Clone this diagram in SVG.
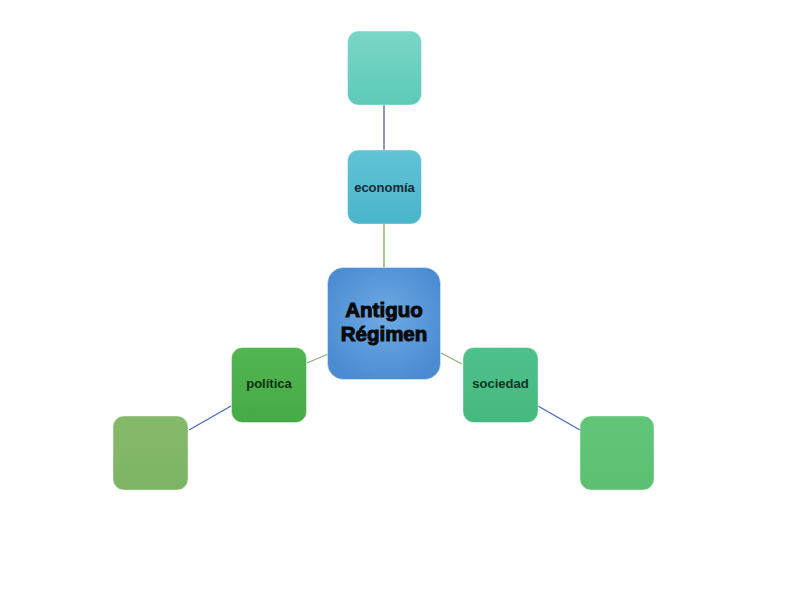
<svg xmlns="http://www.w3.org/2000/svg" width="800" height="599" viewBox="0 0 800 599">
<defs>
<linearGradient id="gTop" x1="0" y1="0" x2="0" y2="1"><stop offset="0" stop-color="#7bd6c7"/><stop offset="1" stop-color="#5dcab7"/></linearGradient>
<linearGradient id="gEco" x1="0" y1="0" x2="0" y2="1"><stop offset="0" stop-color="#62c3d6"/><stop offset="1" stop-color="#4ab5ca"/></linearGradient>
<radialGradient id="gCen" cx="0.5" cy="0.45" r="0.6"><stop offset="0" stop-color="#6eaae2"/><stop offset="1" stop-color="#4a8bd2"/></radialGradient>
<linearGradient id="gPol" x1="0" y1="0" x2="0" y2="1"><stop offset="0" stop-color="#52b552"/><stop offset="1" stop-color="#46aa46"/></linearGradient>
<linearGradient id="gBL" x1="0" y1="0" x2="0" y2="1"><stop offset="0" stop-color="#86ba6b"/><stop offset="1" stop-color="#7cb563"/></linearGradient>
<linearGradient id="gSoc" x1="0" y1="0" x2="0" y2="1"><stop offset="0" stop-color="#4dc18a"/><stop offset="1" stop-color="#46b980"/></linearGradient>
<linearGradient id="gBR" x1="0" y1="0" x2="0" y2="1"><stop offset="0" stop-color="#62c67a"/><stop offset="1" stop-color="#5cc070"/></linearGradient>
</defs>
<style>
.box{stroke:#ffffff;stroke-opacity:0.4;stroke-width:1}
.lbl{font-family:"Liberation Sans",Arial,sans-serif;font-weight:bold;font-size:13px;text-anchor:middle}
.main{font-family:"Liberation Sans",Arial,sans-serif;font-weight:bold;font-size:20.5px;text-anchor:middle;fill:#0a0a0a;stroke:#0a0a0a;stroke-width:1}
.c{fill:none;stroke-width:1.3}
</style>
<rect width="800" height="599" fill="#ffffff"/>
<g id="connectors">
<line class="c" x1="384" y1="105" x2="384" y2="150" stroke="#4e5f9c"/>
<line class="c" x1="384" y1="224" x2="384" y2="268" stroke="#7cb04c"/>
<line class="c" x1="328" y1="354" x2="307" y2="363" stroke="#8fb07a"/>
<line class="c" x1="231" y1="406" x2="189" y2="430" stroke="#4667c0"/>
<line class="c" x1="441" y1="353" x2="462" y2="364" stroke="#8fb07a"/>
<line class="c" x1="538" y1="406" x2="580" y2="430" stroke="#4667c0"/>
</g>
<g id="node-top"><rect class="box" x="347.5" y="31" width="74" height="74" rx="11" fill="url(#gTop)"/></g>
<g id="node-economia"><rect class="box" x="347.5" y="150" width="74" height="74" rx="11" fill="url(#gEco)"/>
<text class="lbl" x="384.5" y="191.5" fill="#142a32">economía</text></g>
<g id="node-antiguo"><rect class="box" x="327.5" y="267.5" width="113" height="112" rx="16" fill="url(#gCen)"/>
<text class="main" x="384" y="317">Antiguo</text>
<text class="main" x="384" y="341">Régimen</text></g>
<g id="node-politica"><rect class="box" x="231.5" y="347.5" width="75" height="75" rx="11" fill="url(#gPol)"/>
<text class="lbl" x="269" y="388" fill="#0d300d">política</text></g>
<g id="node-bl"><rect class="box" x="113" y="416" width="75" height="74" rx="11" fill="url(#gBL)"/></g>
<g id="node-sociedad"><rect class="box" x="463" y="347.5" width="75" height="75" rx="11" fill="url(#gSoc)"/>
<text class="lbl" x="500.5" y="388" fill="#0e3322">sociedad</text></g>
<g id="node-br"><rect class="box" x="580" y="416" width="74" height="74" rx="11" fill="url(#gBR)"/></g>
</svg>
